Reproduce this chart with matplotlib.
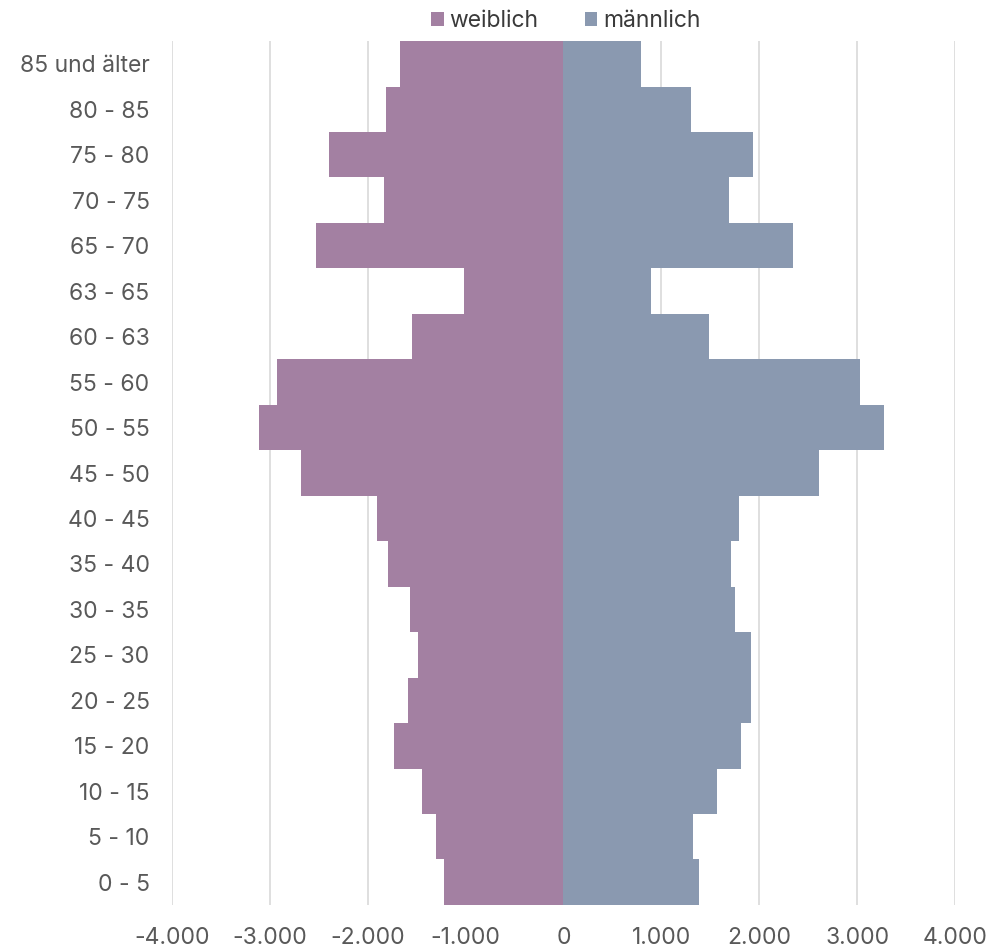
import numpy as np
from matplotlib import pyplot as plt
from matplotlib.ticker import FuncFormatter

# age groups, youngest first
age_groups = ['0 - 5', '5 - 10', '10 - 15', '15 - 20', '20 - 25', '25 - 30', '30 - 35',
              '35 - 40', '40 - 45', '45 - 50', '50 - 55', '55 - 60', '60 - 63', '63 - 65',
              '65 - 70', '70 - 75', '75 - 80', '80 - 85', '85 und älter']
weiblich = [1221, 1303, 1446, 1733, 1590, 1487, 1569, 1795, 1900, 2677,
            3108, 2923, 1549, 1018, 2530, 1836, 2390, 1812, 1672]
maennlich = [1385, 1323, 1569, 1815, 1918, 1918, 1754, 1713, 1795, 2615,
             3272, 3026, 1487, 895, 2349, 1692, 1938, 1303, 790]
x_ticks = [-4000, -3000, -2000, -1000, 0, 1000, 2000, 3000, 4000]

color_w = '#A380A2'
color_m = '#8A99B0'
text_color = '#595959'

plt.rcParams['font.family'] = ['Inter', 'DejaVu Sans']

fig = plt.figure(figsize=(9.99, 9.48), dpi=100)
ax = fig.add_axes([0.172, 0.0454, 0.784, 0.9113])

y = np.arange(len(age_groups))
ax.barh(y, -np.array(weiblich), height=1.0, color=color_w, label='weiblich', zorder=2)
ax.barh(y, maennlich, height=1.0, color=color_m, label='männlich', zorder=2)

ax.set_xlim(-4000, 4000)
ax.set_ylim(-0.5, len(age_groups) - 0.5)
ax.set_xticks(x_ticks)
ax.xaxis.set_major_formatter(FuncFormatter(lambda v, p: f'{int(v):,}'.replace(',', '.')))
ax.set_yticks(y)
ax.set_yticklabels(age_groups)
ax.grid(axis='x', color='#D9D9D9', linewidth=1.2, zorder=0)
ax.set_axisbelow(True)

for s in ax.spines.values():
    s.set_visible(False)
ax.tick_params(axis='both', length=0, labelsize=16.5, colors=text_color)
ax.tick_params(axis='y', pad=16)
ax.tick_params(axis='x', pad=16)

leg = ax.legend(loc='lower center', bbox_to_anchor=(0.503, 1.0), ncol=2, frameon=False,
                fontsize=16.5, handlelength=0.55, handleheight=0.55, handletextpad=0.25,
                columnspacing=2.0, borderaxespad=0.0)
for t in leg.get_texts():
    t.set_color('#3A3A3A')

fig.savefig('out.png', dpi=100)
